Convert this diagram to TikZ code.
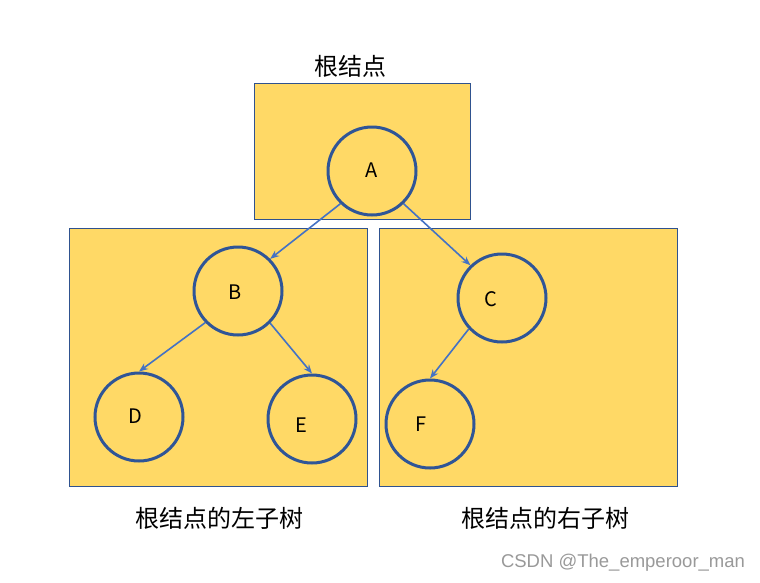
\documentclass[tikz,border=0pt]{standalone}
\usepackage{fontspec}
\usetikzlibrary{arrows.meta}
\newfontfamily\cjk{Noto Sans CJK SC}
\setsansfont{Liberation Sans}

\definecolor{boxfill}{HTML}{FFD966}
\definecolor{boxline}{HTML}{2F528F}
\definecolor{ringline}{HTML}{2F5597}
\definecolor{edgeline}{HTML}{4472C4}

\tikzset{every picture/.style={line width=0.75pt}}
\tikzset{
  treebox/.style={draw=boxline,fill=boxfill,line width=0.8pt},
  vertex/.style={circle,draw=ringline,line width=3pt,minimum size=88pt,inner sep=0pt},
  letter/.style={inner sep=0pt,font=\cjk\fontsize{20}{20}\selectfont},
  caption/.style={inner sep=0pt,font=\cjk\fontsize{24}{24}\selectfont},
  edge/.style={draw=edgeline,line width=1.6pt,-{Stealth[length=9pt,width=7pt]}},
}

\begin{document}
\begin{tikzpicture}[x=1pt,y=1pt,yscale=-1]
\useasboundingbox (0,0) rectangle (760,582);

\draw  [treebox]  (254,83) rectangle (470,219) ;
\draw  [treebox]  (69,228) rectangle (367,486) ;
\draw  [treebox]  (379,228) rectangle (677,486) ;

\node [vertex] (A) at (372,171) {};
\node [vertex] (B) at (238,291) {};
\node [vertex] (C) at (502,298) {};
\node [vertex] (D) at (139,417) {};
\node [vertex] (E) at (312,419) {};
\node [vertex] (F) at (430,424) {};

\node [letter] (tA) at (372,170) {A};
\node [letter] (tB) at (235,292) {B};
\node [letter] (tC) at (491,299) {C};
\node [letter] (tD) at (135,416) {D};
\node [letter] (tE) at (301,425) {E};
\node [letter] (tF) at (421,424) {F};

\draw  [edge]  (A.226) -- (B.45) ;
\draw  [edge]  (A.-46) -- (C.134) ;
\draw  [edge]  (B.224) -- (D.90) ;
\draw  [edge]  (B.-45) -- (E.90) ;
\draw  [edge]  (C.223) -- (F.90) ;

\node [caption] (root) at (350,66) {根结点};
\node [caption] (lsub) at (219,518) {根结点的左子树};
\node [caption] (rsub) at (545,518) {根结点的右子树};
\node [inner sep=0pt,text=black!40,font=\sffamily\fontsize{18.5}{18.5}\selectfont] (mark) at (623,563) {CSDN @The\_emperoor\_man};

\end{tikzpicture}
\end{document}
